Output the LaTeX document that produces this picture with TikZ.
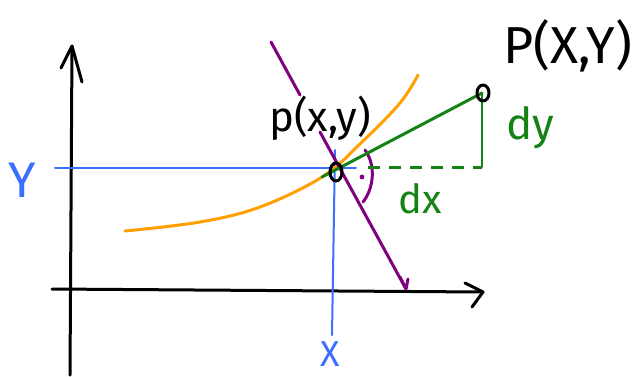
\documentclass[tikz,border=0pt]{standalone}
\usepackage{fontspec}
\setmainfont{Fira Sans}
\begin{document}
\begin{tikzpicture}[x=1pt,y=-1pt,
  ink/.style={line width=3pt,line cap=round,line join=round},
  axis/.style={ink,black},
  bluel/.style={line width=2pt,line cap=round,color=bluec},
  pen/.style={inner sep=0pt,outer sep=0pt}]
\definecolor{bluec}{RGB}{60,110,255}
\definecolor{orangec}{RGB}{255,160,0}
\definecolor{purplec}{RGB}{128,0,128}
\definecolor{greenc}{RGB}{20,130,20}
\useasboundingbox (0,0) rectangle (640,376);
% axes
\coordinate (ybot) at (70,375);
\coordinate (ytip) at (72,46);
\coordinate (yl) at (61,68);
\coordinate (yr) at (82,82);
\draw[axis] (ybot) -- (ytip);
\draw[axis] (yl) -- (ytip) -- (yr);
\coordinate (xleft) at (52,289);
\coordinate (xtip) at (483,292);
\coordinate (xu) at (465,283);
\coordinate (xd) at (472,307);
\draw[axis] (xleft) -- (xtip);
\draw[axis] (xu) -- (xtip) -- (xd);
% blue projection lines
\coordinate (bl) at (55,168);
\coordinate (br) at (356,168);
\coordinate (bt) at (335,150);
\coordinate (bb) at (332,335);
\draw[bluel] (bl) -- (br);
\draw[bluel] (bt) -- (bb);
\node[pen,text=bluec,font=\fontsize{50}{50}\selectfont] (Ylab) at (22,180) {Y};
\node[pen,text=bluec,font=\fontsize{36}{36}\selectfont] (Xlab) at (330,354) {X};
% orange curve
\draw[ink,orangec] plot[smooth,tension=0.6] coordinates {(125,231) (200,222) (260,207) (322,177) (362,142) (400,103) (418,75)};
% purple normal
\coordinate (pa) at (271,42);
\coordinate (pb) at (300,95);
\coordinate (pc) at (320,132);
\coordinate (pd) at (406,289);
\draw[ink,purplec] (pa) -- (pb);
\draw[ink,purplec] (pc) -- (pd);
\draw[ink,purplec] (400,277) -- (pd) -- (408,279);
\draw[ink,purplec] (365,150) .. controls (376,165) and (374,188) .. (363,202);
\fill[purplec] (362,177) circle (2.4pt);
% green tangent
\coordinate (g0) at (322,177);
\coordinate (g1) at (482,93);
\coordinate (g2) at (482,167);
\coordinate (g3) at (368,167);
\draw[ink,greenc] (g0) -- (g1);
\draw[line width=2pt,greenc,line cap=round] (g1) -- (g2);
\draw[line width=3pt,greenc,dash pattern=on 12pt off 9pt] (g3) -- (g2);
\node[pen,text=greenc,font=\fontsize{44}{44}\selectfont] (dy) at (530,128) {dy};
\node[pen,text=greenc,font=\fontsize{40}{40}\selectfont] (dx) at (420,199) {dx};
% points
\draw[ink,black] (336,172) ellipse (6pt and 9pt);
\draw[ink,black] (483,93) ellipse (6pt and 8pt);
\node[pen,font=\fontsize{42}{42}\selectfont] (plab) at (320,118) {p(x,y)};
\node[pen,font=\fontsize{52}{52}\selectfont] (Plab) at (568,46) {P(X,Y)};
\end{tikzpicture}
\end{document}
